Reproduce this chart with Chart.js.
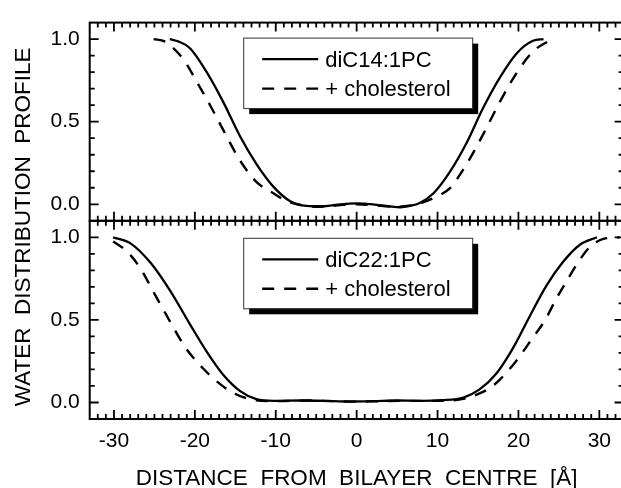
<!DOCTYPE html>
<html>
<head>
<meta charset="utf-8">
<script src="https://cdn.jsdelivr.net/npm/chart.js@4"></script>
<style>
  html, body { margin: 0; padding: 0; background: #fff; overflow: hidden; }
  #wrap { position: relative; width: 626px; height: 488px; }
</style>
</head>
<body>
<div id="wrap"><canvas id="chart"></canvas></div>
<script>
// ==========================================
// 1. Data
// ==========================================
const xTicks = [-30, -20, -10, 0, 10, 20, 30];
const yTicks = [0.0, 0.5, 1.0];

// upper panel: diC14:1PC
const c14X = [-23.1, -22.0, -20.6, -18.5, -16.5, -14.4, -12.4, -10.3, -8.2, -6.2, -4.0, -2.0, 0.0, 2.0, 4.0, 5.4, 6.6, 7.8, 9.5, 11.5, 13.6, 15.6, 17.7, 19.8, 21.8, 23.1];
const c14Y = [1.00, 0.985, 0.945, 0.797, 0.62, 0.41, 0.245, 0.107, 0.018, -0.01, -0.012, 0.0, 0.005, 0.0, -0.012, -0.018, -0.01, 0.008, 0.067, 0.195, 0.373, 0.58, 0.767, 0.915, 0.99, 1.00];

// upper panel: + cholesterol
const c14cX = [-25.1, -23.7, -21.4, -19.6, -17.9, -16.3, -14.4, -12.4, -10.3, -8.6, -6.5, -4.5, -2.0, 0.0, 2.0, 4.5, 6.5, 8.2, 9.9, 11.5, 13.6, 15.6, 17.7, 19.8, 21.8, 23.9];
const c14cY = [1.00, 0.985, 0.876, 0.728, 0.58, 0.432, 0.264, 0.136, 0.067, 0.018, -0.008, -0.015, -0.005, 0.0, -0.005, -0.015, -0.008, 0.012, 0.047, 0.096, 0.244, 0.42, 0.62, 0.797, 0.925, 0.994];

// lower panel: diC22:1PC
const c22X = [-30.1, -28.0, -25.5, -23.1, -20.6, -18.5, -16.5, -14.4, -12.4, -10.3, -7.0, -4.0, -1.0, 2.0, 5.0, 8.0, 10.5, 13.2, 15.2, 17.3, 19.4, 21.4, 23.5, 25.5, 27.6, 29.7];
const c22Y = [1.00, 0.965, 0.847, 0.68, 0.473, 0.305, 0.168, 0.069, 0.02, 0.01, 0.012, 0.01, 0.006, 0.008, 0.012, 0.01, 0.014, 0.03, 0.079, 0.177, 0.335, 0.522, 0.71, 0.85, 0.955, 1.00];

// lower panel: + cholesterol
const c22cX = [-30.1, -28.4, -26.8, -24.9, -23.1, -21.2, -19.0, -17.3, -15.3, -13.2, -10.0, -6.0, -3.0, 0.0, 3.0, 6.0, 10.0, 13.0, 15.2, 16.5, 17.7, 19.8, 21.6, 23.3, 24.7, 26.0, 27.4, 28.8, 30.5, 32.5];
const c22cY = [0.975, 0.915, 0.817, 0.65, 0.493, 0.335, 0.207, 0.128, 0.059, 0.02, 0.008, 0.012, 0.008, 0.005, 0.008, 0.01, 0.01, 0.02, 0.055, 0.089, 0.138, 0.256, 0.38, 0.5, 0.63, 0.738, 0.85, 0.94, 0.99, 1.00];

const pts = (xs, ys) => xs.map((x, i) => ({ x: x, y: ys[i] }));

const FONT = 'Arial, "Liberation Sans", Helvetica, sans-serif';
const DASH = [12, 10];

// ==========================================
// 2. Plugins: boxed frame with inward ticks, legends, y title
// ==========================================
const framePlugin = {
    id: 'frame',
    afterDatasetsDraw(chart) {
        const ctx = chart.ctx;
        const xs = chart.scales.x;
        const area = chart.chartArea;
        ctx.save();
        ctx.strokeStyle = '#000';
        ['yTop', 'yBot'].forEach(id => {
            const ys = chart.scales[id];
            ctx.lineWidth = 1.8;
            ctx.beginPath();
            for (let v = Math.ceil(xs.min) + 1; v < xs.max; v++) {
                const px = xs.getPixelForValue(v);
                const len = xTicks.includes(v) ? 9 : 5;
                ctx.moveTo(px, ys.top); ctx.lineTo(px, ys.top + len);
                ctx.moveTo(px, ys.bottom); ctx.lineTo(px, ys.bottom - len);
            }
            for (let i = 0; i <= 10; i++) {
                const py = ys.getPixelForValue(i / 10);
                const len = (i % 5 === 0) ? 9 : 5;
                ctx.moveTo(area.left, py); ctx.lineTo(area.left + len, py);
                ctx.moveTo(area.right, py); ctx.lineTo(area.right - len, py);
            }
            ctx.stroke();
            ctx.lineWidth = 2;
            ctx.strokeRect(area.left, ys.top, area.right - area.left, ys.bottom - ys.top);
        });
        ctx.restore();
    },
    afterDraw(chart) {
        const ctx = chart.ctx;
        const area = chart.chartArea;
        ctx.save();

        // 共用 y 軸標題
        ctx.fillStyle = '#000';
        ctx.font = '22.5px ' + FONT;
        ctx.textAlign = 'center';
        ctx.textBaseline = 'middle';
        ctx.translate(24, (area.top + area.bottom) / 2 + 6);
        ctx.rotate(-Math.PI / 2);
        ctx.fillText('WATER  DISTRIBUTION  PROFILE', 0, 0);
        ctx.restore();

        // legend box with drop shadow in each panel
        [['yTop', 15], ['yBot', 17]].forEach(([id, off]) => {
            const ys = chart.scales[id];
            const bx = area.left + 153.5, by = ys.top + off, bw = 229, bh = 70.5;
            ctx.save();
            ctx.fillStyle = '#000';
            ctx.fillRect(bx + 6, by + 6, bw, bh);
            ctx.fillStyle = '#fff';
            ctx.fillRect(bx, by, bw, bh);
            ctx.strokeStyle = '#333';
            ctx.lineWidth = 1;
            ctx.strokeRect(bx + 0.5, by + 0.5, bw, bh);
            const sets = chart.data.datasets.filter(d => d.yAxisID === id);
            sets.forEach((d, k) => {
                const ry = by + 21.5 + k * 29.5;
                ctx.strokeStyle = '#000';
                ctx.lineWidth = d.borderWidth;
                ctx.setLineDash(d.borderDash || []);
                ctx.beginPath();
                ctx.moveTo(bx + 19, ry);
                ctx.lineTo(bx + 75, ry);
                ctx.stroke();
                ctx.setLineDash([]);
                ctx.fillStyle = '#000';
                ctx.font = '22px ' + FONT;
                ctx.textAlign = 'left';
                ctx.textBaseline = 'middle';
                ctx.fillText(d.label, bx + 82, ry + 1.5);
            });
            ctx.restore();
        });
    }
};

// ==========================================
// 3. Chart: one shared x axis, two stacked y axes
// ==========================================
const yAxis = () => ({
    type: 'linear',
    position: 'left',
    stack: 'panels',
    stackWeight: 1,
    min: -0.1,
    max: 1.1,
    afterFit: s => { s.width = 89.7; },
    afterBuildTicks: s => { s.ticks = yTicks.map(v => ({ value: v })); },
    grid: { display: false, drawTicks: false },
    border: { display: false },
    ticks: {
        color: '#000',
        padding: 10,
        font: { family: FONT, size: 21 },
        callback: v => v.toFixed(1)
    }
});

const line = (label, data, axis, dashed) => ({
    label: label,
    data: data,
    yAxisID: axis,
    borderColor: '#000',
    borderWidth: dashed ? 2.4 : 2.3,
    borderDash: dashed ? DASH : [],
    pointRadius: 0,
    fill: false,
    cubicInterpolationMode: 'monotone'
});

new Chart(document.getElementById('chart'), {
    type: 'line',
    data: {
        datasets: [
            line('diC14:1PC', pts(c14X, c14Y), 'yTop', false),
            line('+ cholesterol', pts(c14cX, c14cY), 'yTop', true),
            line('diC22:1PC', pts(c22X, c22Y), 'yBot', false),
            line('+ cholesterol', pts(c22cX, c22cY), 'yBot', true)
        ]
    },
    options: {
        responsive: true,
        maintainAspectRatio: false,
        animation: false,
        layout: { padding: { top: 12, right: 2.4, bottom: 0, left: 0 } },
        plugins: {
            legend: { display: false },
            tooltip: { enabled: false }
        },
        scales: {
            x: {
                type: 'linear',
                position: 'bottom',
                min: -33,
                max: 33,
                afterFit: s => { s.height = 69; },
                afterBuildTicks: s => { s.ticks = xTicks.map(v => ({ value: v })); },
                grid: { display: false, drawTicks: false },
                border: { display: false },
                ticks: {
                    color: '#000',
                    padding: 10,
                    maxRotation: 0,
                    font: { family: FONT, size: 21 }
                },
                title: {
                    display: true,
                    text: 'DISTANCE  FROM  BILAYER  CENTRE  [Å]',
                    color: '#000',
                    padding: 0,
                    font: { family: FONT, size: 22.5, lineHeight: 0.86 }
                }
            },
            yBot: yAxis(),
            yTop: yAxis()
        }
    },
    plugins: [framePlugin]
});
</script>
</body>
</html>
